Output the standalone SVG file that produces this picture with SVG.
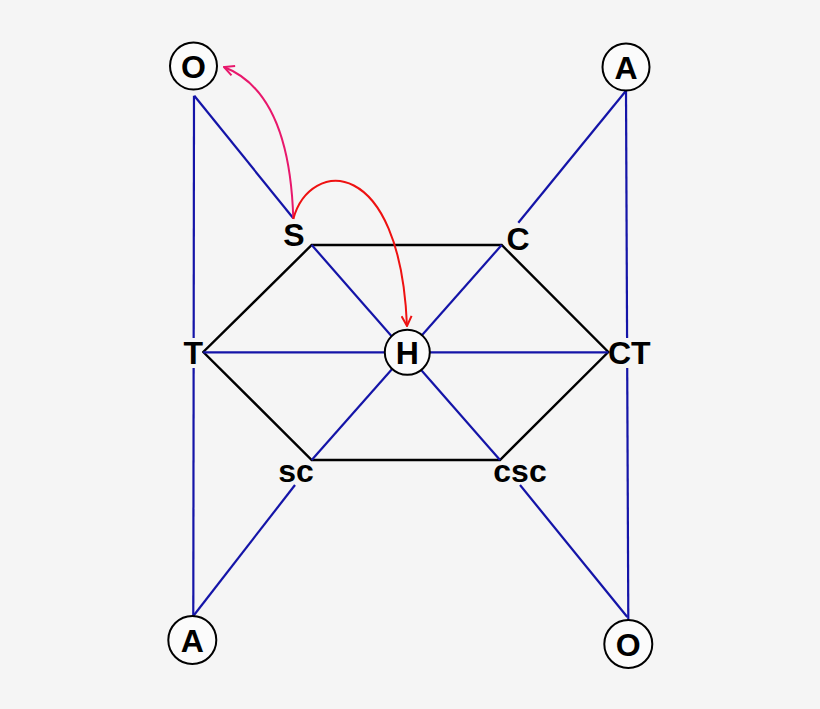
<svg xmlns="http://www.w3.org/2000/svg" width="820" height="709" viewBox="0 0 820 709">
<defs>
<style>
.bg{fill:#f5f5f5}
.blue{stroke:#1414a8;stroke-width:2.2;fill:none}
.blk{stroke:#000;stroke-width:2.4;fill:none}
.circ{fill:#fbfbfb;stroke:#000;stroke-width:2}
.lbl{font-family:"Liberation Sans",Arial,sans-serif;font-weight:bold;font-size:32px;fill:#000;text-anchor:middle;dominant-baseline:central}
</style>
<marker id="ahPink" viewBox="0 0 12 12" refX="11" refY="6" markerWidth="12" markerHeight="12" markerUnits="userSpaceOnUse" orient="auto">
<path d="M1,1 L11,6 L1,11" fill="none" stroke="#e8186c" stroke-width="2"/>
</marker>
<marker id="ahRed" viewBox="0 0 12 12" refX="11" refY="6" markerWidth="12" markerHeight="12" markerUnits="userSpaceOnUse" orient="auto">
<path d="M1,1 L11,6 L1,11" fill="none" stroke="#ee1111" stroke-width="2"/>
</marker>
</defs>
<rect class="bg" x="0" y="0" width="820" height="709"/>
<g id="connectors">
<polygon class="blk" points="311.7,245 501.7,245 608.3,352 500,460 311.7,460 203.3,352"/>
<line class="blue" x1="203.3" y1="352.3" x2="608.3" y2="352.3"/>
<line class="blue" x1="311.7" y1="245" x2="500" y2="460"/>
<line class="blue" x1="501.7" y1="245" x2="311.7" y2="460"/>
<line class="blue" x1="194.3" y1="95.7" x2="293.3" y2="218.3"/>
<line class="blue" x1="194" y1="95.7" x2="193.3" y2="616"/>
<line class="blue" x1="626" y1="90.7" x2="518.3" y2="222.7"/>
<line class="blue" x1="626" y1="90.7" x2="628.3" y2="620"/>
<line class="blue" x1="295" y1="485" x2="193.3" y2="616"/>
<line class="blue" x1="520" y1="485" x2="627.3" y2="617"/>
<path d="M293.3,219 C291,140 270,85 224,67" fill="none" stroke="#e8186c" stroke-width="2" marker-end="url(#ahPink)"/>
<path d="M293.3,219 C310,158 400,155 407,326" fill="none" stroke="#ee1111" stroke-width="2" marker-end="url(#ahRed)"/>
</g>
<g id="node-O-top"><circle class="circ" cx="193.5" cy="66" r="23.5"/><text class="lbl" x="193.5" y="67">O</text></g>
<g id="node-A-top"><circle class="circ" cx="626" cy="67" r="23.5"/><text class="lbl" x="626" y="68">A</text></g>
<g id="node-S"><text class="lbl" x="294" y="235">S</text></g>
<g id="node-C"><text class="lbl" x="518" y="239">C</text></g>
<g id="node-T"><rect class="bg" x="184" y="338" width="18" height="30"/><text class="lbl" x="193.3" y="353">T</text></g>
<g id="node-H"><circle class="circ" cx="407.3" cy="352.3" r="22.5"/><text class="lbl" x="407.3" y="353">H</text></g>
<g id="node-CT"><rect class="bg" x="610" y="338" width="40" height="30"/><text class="lbl" x="629.3" y="353">CT</text></g>
<g id="node-sc"><text class="lbl" x="296" y="471">sc</text></g>
<g id="node-csc"><text class="lbl" x="520" y="471">csc</text></g>
<g id="node-A-bottom"><circle class="circ" cx="192.3" cy="640" r="24"/><text class="lbl" x="192.3" y="641">A</text></g>
<g id="node-O-bottom"><circle class="circ" cx="628.3" cy="644" r="24"/><text class="lbl" x="628.3" y="645">O</text></g>
</svg>
